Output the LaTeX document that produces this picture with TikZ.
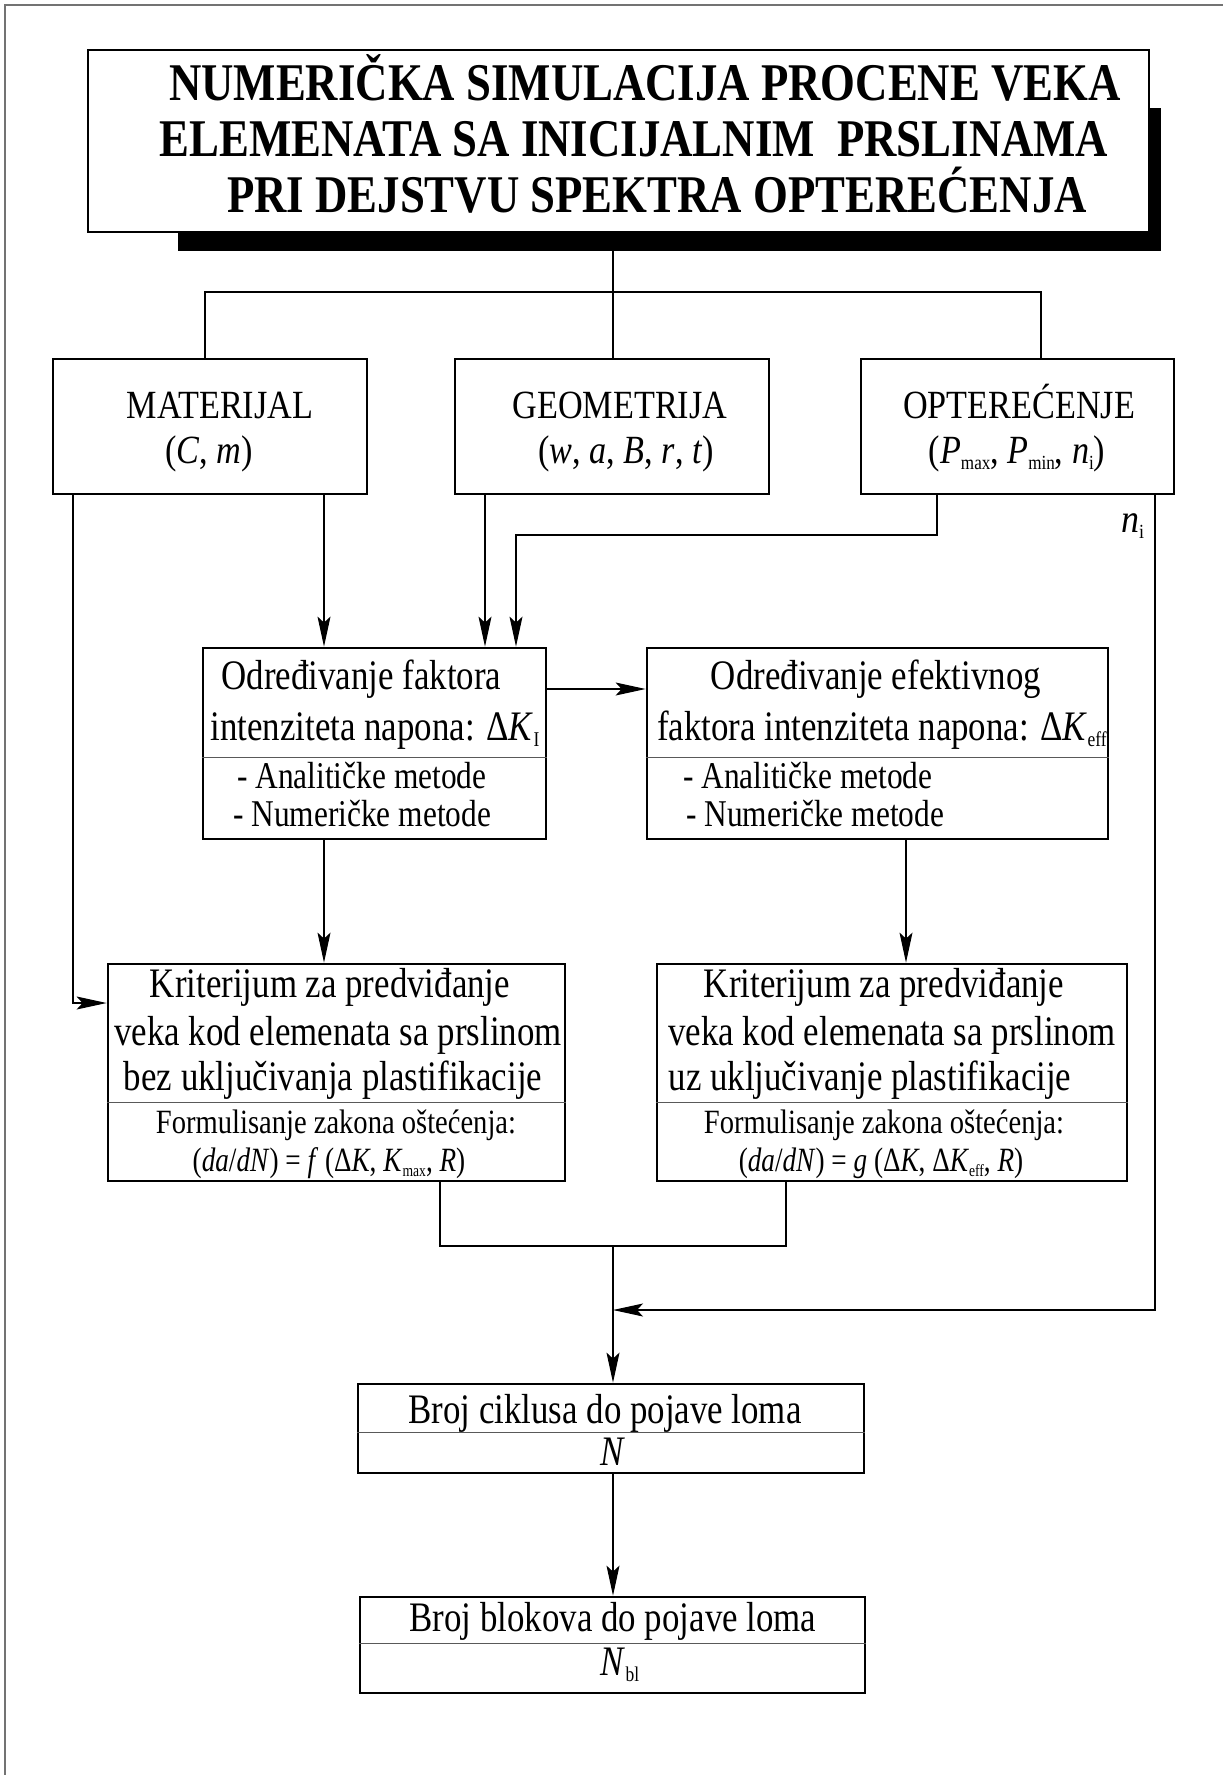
\documentclass[tikz,border=0pt]{standalone}
\usepackage{fontspec}
\setmainfont{Liberation Serif}
\usetikzlibrary{arrows.meta,calc}
\newcommand\sbs[1]{\raisebox{-0.35ex}{\scalebox{0.5}{#1}}}
\newcommand\sx[2]{\scalebox{#1}[1]{#2}}
\begin{document}
\begin{tikzpicture}[x=1pt,y=-1pt,
  conn/.style={line width=1.1pt},
  arr/.style={conn,-{Stealth[length=30pt,width=13pt,inset=6pt]}},
  boxA/.style={draw,line width=2.8pt,fill=white,inner sep=0pt,rectangle},
  divl/.style={line width=1pt,draw=black!65},
  tl/.style={inner sep=0pt,anchor=base,font=\fontsize{53}{57}\selectfont\bfseries},
  tt/.style={inner sep=0pt,anchor=base,font=\fontsize{40}{44}\selectfont},
  tb/.style={inner sep=0pt,anchor=base,font=\fontsize{42}{44}\selectfont},
  ts/.style={inner sep=0pt,anchor=base west,font=\fontsize{37.8}{40}\selectfont},
  tf/.style={inner sep=0pt,anchor=base,font=\fontsize{34}{36}\selectfont},
]
\useasboundingbox (0,0) rectangle (1223,1775);
% page frame (left and top)
\draw[line width=1.6pt,draw=black!55] (5,1775) -- (5,5) -- (1223,5);

% title with shadow
\fill[black] (178,108) rectangle (1161,251);
\node[boxA,minimum width=1061pt,minimum height=182pt] (title) at (618.5,141) {};
\node[tl] (tl1) at (645,100) {\sx{0.845}{NUMERIČKA SIMULACIJA PROCENE VEKA}};
\node[tl] (tl2) at (634,156) {\sx{0.845}{ELEMENATA SA INICIJALNIM\ \ PRSLINAMA}};
\node[tl] (tl3) at (657,212) {\sx{0.845}{PRI DEJSTVU SPEKTRA OPTEREĆENJA}};

% top row
\node[boxA,minimum width=314pt,minimum height=135pt] (mat) at (210,426.5) {};
\node[boxA,minimum width=314pt,minimum height=135pt] (geo) at (612,426.5) {};
\node[boxA,minimum width=313pt,minimum height=135pt] (opt) at (1017.5,426.5) {};
\node[tt] (mat1) at (220,418) {\sx{0.855}{MATERIJAL}};
\node[tt] (mat2) at (209,463) {\sx{0.855}{(\textit{C}, \textit{m})}};
\node[tt] (geo1) at (620,418) {\sx{0.855}{GEOMETRIJA}};
\node[tt] (geo2) at (626,463) {\sx{0.855}{(\textit{w}, \textit{a}, \textit{B}, \textit{r}, \textit{t})}};
\node[tt] (opt1) at (1019,418) {\sx{0.855}{OPTEREĆENJE}};
\node[tt] (opt2) at (1017,463) {\sx{0.855}{(\textit{P}\sbs{max}, \textit{P}\sbs{min}, \textit{n}\sbs{i})}};

% second row
\node[boxA,minimum width=343pt,minimum height=191pt] (b1) at (374.5,743.5) {};
\node[boxA,minimum width=461pt,minimum height=191pt] (b2) at (877.5,743.5) {};
\draw[divl] (b1.west |- 0,757) -- (b1.east |- 0,757);
\draw[divl] (b2.west |- 0,757) -- (b2.east |- 0,757);
\node[tb] (b1a) at (361.5,689) {\sx{0.83}{Određivanje faktora}};
\node[tb] (b1b) at (375,740) {\sx{0.83}{intenziteta napona: Δ\textit{K}\sbs{I}}};
\node[ts] (b1c) at (237,788) {\sx{0.83}{- Analitičke metode}};
\node[ts] (b1d) at (233,826) {\sx{0.83}{- Numeričke metode}};
\node[tb] (b2a) at (876,689) {\sx{0.83}{Određivanje efektivnog}};
\node[tb] (b2b) at (882,740) {\sx{0.83}{faktora intenziteta napona: Δ\textit{K}\sbs{eff}}};
\node[ts] (b2c) at (683,788) {\sx{0.83}{- Analitičke metode}};
\node[ts] (b2d) at (686,826) {\sx{0.83}{- Numeričke metode}};

% third row
\node[boxA,minimum width=457pt,minimum height=217pt] (b3) at (336.5,1072.5) {};
\node[boxA,minimum width=470pt,minimum height=217pt] (b4) at (892,1072.5) {};
\draw[divl] (b3.west |- 0,1102) -- (b3.east |- 0,1102);
\draw[divl] (b4.west |- 0,1102) -- (b4.east |- 0,1102);
\node[tb] (b3a) at (330,997) {\sx{0.83}{Kriterijum za predviđanje}};
\node[tb] (b3b) at (338,1045) {\sx{0.83}{veka kod elemenata sa prslinom}};
\node[tb] (b3c) at (333,1090) {\sx{0.83}{bez uključivanja plastifikacije}};
\node[tf] (b3d) at (336,1133) {\sx{0.84}{Formulisanje zakona oštećenja:}};
\node[tf] (b3e) at (329,1171) {\sx{0.8}{(\textit{da}/\textit{dN}) = \textit{f} (Δ\textit{K}, \textit{K}\sbs{max}, \textit{R})}};
\node[tb] (b4a) at (884,997) {\sx{0.83}{Kriterijum za predviđanje}};
\node[tb] (b4b) at (892,1045) {\sx{0.83}{veka kod elemenata sa prslinom}};
\node[tb] (b4c) at (870,1090) {\sx{0.83}{uz uključivanje plastifikacije}};
\node[tf] (b4d) at (884,1133) {\sx{0.84}{Formulisanje zakona oštećenja:}};
\node[tf] (b4e) at (881,1171) {\sx{0.8}{(\textit{da}/\textit{dN}) = \textit{g} (Δ\textit{K}, Δ\textit{K}\sbs{eff}, \textit{R})}};

% bottom boxes
\node[boxA,minimum width=506pt,minimum height=89pt] (b5) at (611,1428.5) {};
\node[boxA,minimum width=505pt,minimum height=96pt] (b6) at (612.5,1645) {};
\draw[divl] (b5.west |- 0,1432) -- (b5.east |- 0,1432);
\draw[divl] (b6.west |- 0,1643) -- (b6.east |- 0,1643);
\node[tb] (b5a) at (605,1423) {\sx{0.83}{Broj ciklusa do pojave loma}};
\node[tb] (b5b) at (613,1465) {\sx{0.83}{\textit{N}}};
\node[tb] (b6a) at (613,1631) {\sx{0.83}{Broj blokova do pojave loma}};
\node[tb] (b6b) at (620,1675) {\sx{0.83}{\textit{N}\sbs{bl}}};

% label n_i
\node[inner sep=0pt,anchor=base west,font=\fontsize{40}{42}\selectfont] (nilab) at (1121,532) {\sx{0.9}{\textit{n}\sbs{i}}};

% coordinates
\coordinate (cL) at (205,292);
\coordinate (cC) at (613,292);
\coordinate (cR) at (1041,292);
\coordinate (x1) at (324,0);
\coordinate (x2) at (485,0);
\coordinate (x3) at (937,535);
\coordinate (x4) at (516,535);
\coordinate (x5) at (73,1003);
\coordinate (y6) at (0,689);
\coordinate (x7) at (906,0);
\coordinate (j1) at (440,1246);
\coordinate (j2) at (786,1246);
\coordinate (jc) at (613,1246);
\coordinate (n1) at (1155,1310);
\coordinate (n2) at (613,1310);

% connectors
\draw[conn] (title.south -| cC) -- (geo.north -| cC);
\draw[conn] (mat.north -| cL) -- (cL) -- (cR) -- (opt.north -| cR);
\draw[arr] (mat.south -| x1) -- (b1.north -| x1);
\draw[arr] (geo.south -| x2) -- (b1.north -| x2);
\draw[arr] (opt.south -| x3) -- (x3) -- (x4) -- (b1.north -| x4);
\draw[arr] (mat.south -| x5) -- (x5) -- (b3.west |- x5);
\draw[arr] (b1.east |- y6) -- (b2.west |- y6);
\draw[arr] (b1.south -| x1) -- (b3.north -| x1);
\draw[arr] (b2.south -| x7) -- (b4.north -| x7);
\draw[conn] (b3.south -| j1) -- (j1) -- (j2) -- (b4.south -| j2);
\draw[arr] (jc) -- (b5.north -| jc);
\draw[arr] (opt.south -| n1) -- (n1) -- (n2);
\draw[arr] (b5.south -| jc) -- (b6.north -| jc);
\end{tikzpicture}
\end{document}
